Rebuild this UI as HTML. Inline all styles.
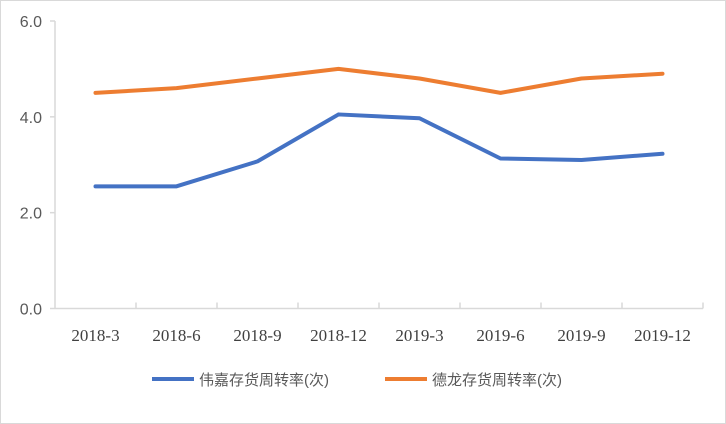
<!DOCTYPE html>
<html><head><meta charset="utf-8"><style>
html,body{margin:0;padding:0;background:#fff}
svg{display:block}
</style></head><body>
<svg width="726" height="424" xmlns="http://www.w3.org/2000/svg">
<rect x="0.5" y="0.5" width="725" height="423" fill="#fff" stroke="#d9d9d9"/>
<g id="axes"></g>
<g id="series"></g>
<g font-family="'Liberation Sans','Noto Sans CJK SC',sans-serif" font-size="15" fill="#595959">
<line x1="152" y1="379" x2="194" y2="379" stroke="#4472c4" stroke-width="4"/>
<text x="199" y="385">伟嘉存货周转率(次)</text>
<line x1="385" y1="379" x2="427" y2="379" stroke="#ed7d31" stroke-width="4"/>
<text x="432" y="385">德龙存货周转率(次)</text>
</g>
</svg>
<script>
const categories=["2018-3","2018-6","2018-9","2018-12","2019-3","2019-6","2019-9","2019-12"];
const weijia=[2.55,2.55,3.07,4.05,3.97,3.13,3.10,3.23];
const delong=[4.5,4.6,4.8,5.0,4.8,4.5,4.8,4.9];
const yTicks=[0,2,4,6];
const yTickLabels=["0.0","2.0","4.0","6.0"];
const NS="http://www.w3.org/2000/svg";
const x0=55,x1=703,y0=308.5,y1=21;
const band=(x1-x0)/categories.length;
const xS=i=>x0+band*(i+0.5);
const yS=v=>y0-(v/6)*(y0-y1);
function mk(t,a,p){const e=document.createElementNS(NS,t);for(const k in a)e.setAttribute(k,a[k]);p.appendChild(e);return e;}
const ax=document.getElementById('axes');
const yl=mk('line',{x1:x0,y1:y1,x2:x0,y2:y0,stroke:'#d9d9d9','stroke-width':1.5},ax);


const xl=mk('line',{x1:x0,y1:y0,x2:x1,y2:y0,stroke:'#d9d9d9','stroke-width':1.5},ax);


yTicks.forEach((v,i)=>{
 const tk=mk('line',{x1:x0-5,y1:yS(v),x2:x0,y2:yS(v),stroke:'#d9d9d9','stroke-width':1.5},ax);
 
 
 const t=mk('text',{x:x0-13,y:yS(v)+6,'text-anchor':'end','font-family':"'Liberation Sans',sans-serif",'font-size':16,fill:'#595959'},ax);
 t.textContent=yTickLabels[i];
 
 
});
for(let i=1;i<=categories.length;i++){
 const tk=mk('line',{x1:x0+band*i,y1:y0-6,x2:x0+band*i,y2:y0,stroke:'#d9d9d9','stroke-width':1.5},ax);
 
 
}
categories.forEach((c,i)=>{
 const t=mk('text',{x:xS(i),y:341,'text-anchor':'middle','font-family':"'Liberation Serif',serif",'font-size':17,fill:'#404040'},ax);
 t.textContent=c;
 
 
});
const sg=document.getElementById('series');
[[weijia,'#4472c4','line-weijia'],[delong,'#ed7d31','line-delong']].forEach(([d,col,n])=>{
 const p=mk('polyline',{points:d.map((v,i)=>xS(i)+','+yS(v)).join(' '),fill:'none',stroke:col,'stroke-width':4,'stroke-linejoin':'round','stroke-linecap':'round'},sg);
 
 
});
</script>
</body></html>
